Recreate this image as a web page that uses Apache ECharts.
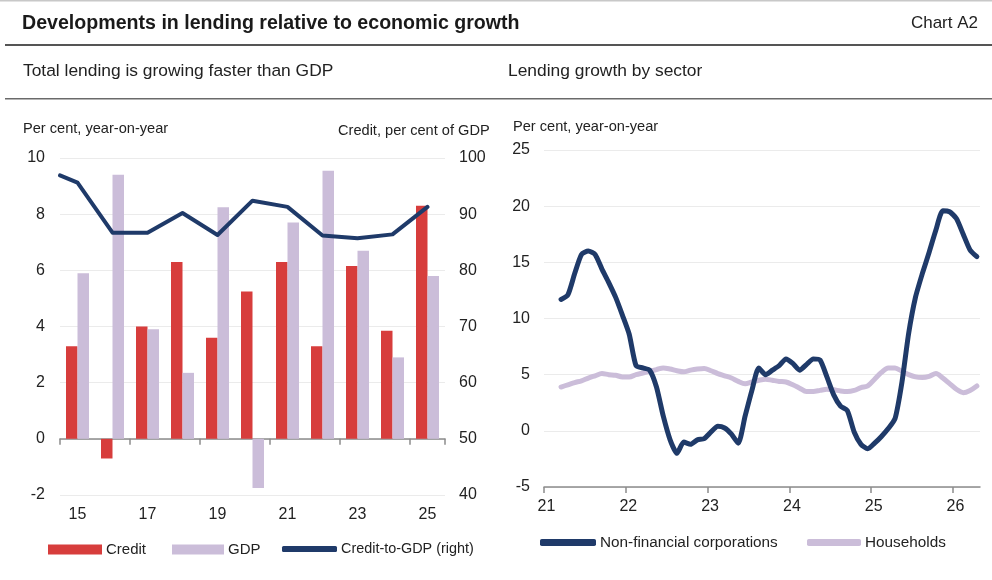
<!DOCTYPE html>
<html>
<head>
<meta charset="utf-8">
<script src="https://cdn.jsdelivr.net/npm/echarts@6/dist/echarts.min.js"></script>
<style>
  html, body { margin: 0; padding: 0; background: #fff; }
  #chart { width: 992px; height: 580px; }
</style>
</head>
<body>
<div id="chart"></div>
<script>
// Left panel: annual growth (per cent, year-on-year)
const years = ['2015', '2016', '2017', '2018', '2019', '2020', '2021', '2022', '2023', '2024', '2025'];
const creditGrowth = [3.3, -0.7, 4.0, 6.3, 3.6, 5.25, 6.3, 3.3, 6.15, 3.85, 8.3];
const gdpGrowth = [5.9, 9.4, 3.9, 2.35, 8.25, -1.75, 7.7, 9.55, 6.7, 2.9, 5.8];

// Credit-to-GDP ratio (per cent of GDP), plotted on the right-hand axis
const ratioYears = [2014.5, 2015, 2016, 2017, 2018, 2019, 2020, 2021, 2022, 2023, 2024, 2025];
const creditToGdp = [96.9, 95.6, 86.7, 86.7, 90.2, 86.3, 92.4, 91.3, 86.2, 85.7, 86.4, 91.3];

// Right panel: monthly lending growth by sector, March 2021 to April 2026
const firstMonth = { year: 2021, month: 3 };
const nonFinancialCorps = [
  11.7, 12.1, 14.0, 15.7, 16.0, 15.7, 14.4, 13.2, 11.9, 10.3,
  8.6, 5.8, 5.6, 5.4, 3.9, 1.3, -0.8, -2.0, -1.0, -1.2, -0.8, -0.7,
  -0.1, 0.4, 0.25, -0.3, -1.1, 1.3, 3.6, 5.6, 5.0, 5.4, 5.8, 6.4,
  6.0, 5.4, 5.9, 6.4, 6.3, 4.8, 3.2, 2.2, 1.8, -0.1, -1.2, -1.6,
  -1.1, -0.5, 0.2, 1.1, 4.3, 8.7, 11.9, 14.0, 15.9, 17.9, 19.6, 19.5,
  18.9, 17.5, 16.1, 15.5
];
const households = [
  3.9, 4.1, 4.3, 4.45, 4.7, 4.9, 5.1, 5.0, 4.95, 4.8,
  4.8, 5.0, 5.15, 5.3, 5.45, 5.6, 5.5, 5.35, 5.25, 5.4, 5.5, 5.55,
  5.35, 5.1, 4.9, 4.7, 4.4, 4.2, 4.35, 4.5, 4.6, 4.5, 4.4, 4.35,
  4.1, 3.8, 3.5, 3.5, 3.6, 3.7, 3.65, 3.55, 3.5, 3.6, 3.85, 4.0,
  4.6, 5.2, 5.6, 5.6, 5.3, 5.0, 4.8, 4.75, 4.85, 5.1, 4.7, 4.2,
  3.7, 3.4, 3.6, 4.0
];
const sectorYearTicks = [2021, 2022, 2023, 2024, 2025, 2026];

// Position of each monthly observation on a decimal-year scale (mid-month)
function monthPos(i) {
  const m = firstMonth.month - 1 + i;
  return firstMonth.year + Math.floor(m / 12) + ((m % 12) + 0.5) / 12;
}
const nfcData = nonFinancialCorps.map((v, i) => [monthPos(i), v]);
const hhData = households.map((v, i) => [monthPos(i), v]);
const ratioData = creditToGdp.map((v, i) => [ratioYears[i], v]);

const RED = '#d73d3c';
const LILAC = '#cbbdd9';
const NAVY = '#1f3a69';
const TEXT = '#222222';
const GRID = '#ebebeb';
const AXIS = '#8c8c8c';
const FONT = '"Liberation Sans", Arial, sans-serif';
const tickFont = { fontFamily: FONT, fontSize: 16, color: TEXT };

const chart = echarts.init(document.getElementById('chart'), null, { renderer: 'canvas' });

function legendItem(name, left, top, w, h, icon, size) {
  return {
    data: [{ name: name, icon: icon }],
    left: left, top: top, padding: 0,
    itemWidth: w, itemHeight: h, itemGap: 0,
    selectedMode: false,
    textStyle: { fontFamily: FONT, fontSize: size, color: TEXT, padding: [0, 0, 0, -1] }
  };
}

const option = {
  animation: false,
  backgroundColor: '#ffffff',
  grid: [
    { left: 60, right: 547, top: 158, bottom: 85 },
    { left: 544, right: 12, top: 150, bottom: 93 }
  ],
  xAxis: [
    { // zero line with year ticks
      type: 'category', gridIndex: 0, data: years, boundaryGap: true,
      axisLine: { onZero: true, lineStyle: { color: AXIS, width: 1.5 } },
      axisTick: { show: true, interval: 1, length: 6, lineStyle: { color: AXIS, width: 1.5 } },
      axisLabel: { show: false }
    },
    { // year labels along the bottom
      type: 'category', gridIndex: 0, data: years, boundaryGap: true, position: 'bottom',
      axisLine: { show: false, onZero: false }, axisTick: { show: false },
      axisLabel: Object.assign({ interval: 1, margin: 12, formatter: v => v.slice(2) }, tickFont)
    },
    { // decimal-year scale for the ratio line
      type: 'value', gridIndex: 0, min: 2014.5, max: 2025.5, show: false
    },
    {
      type: 'value', gridIndex: 1, min: 2021, max: 2026.33,
      axisLine: { onZero: false, lineStyle: { color: AXIS, width: 1.5 } },
      axisTick: { show: true, length: 6, customValues: sectorYearTicks, lineStyle: { color: AXIS, width: 1.5 } },
      axisLabel: Object.assign({ margin: 12, padding: [0, 0, 0, 5], customValues: sectorYearTicks, formatter: v => String(v).slice(2) }, tickFont),
      splitLine: { show: false }
    }
  ],
  yAxis: [
    {
      type: 'value', gridIndex: 0, min: -2, max: 10, interval: 2,
      axisLine: { show: false }, axisTick: { show: false },
      axisLabel: Object.assign({ margin: 15 }, tickFont),
      splitLine: { lineStyle: { color: GRID, width: 1 } }
    },
    {
      type: 'value', gridIndex: 0, min: 40, max: 100, interval: 10, position: 'right',
      axisLine: { show: false }, axisTick: { show: false },
      axisLabel: Object.assign({ margin: 14 }, tickFont),
      splitLine: { show: false }
    },
    {
      type: 'value', gridIndex: 1, min: -5, max: 25, interval: 5,
      axisLine: { show: false }, axisTick: { show: false },
      axisLabel: Object.assign({ margin: 14 }, tickFont),
      splitLine: { lineStyle: { color: GRID, width: 1 } }
    }
  ],
  legend: [
    legendItem('Credit', 48, 542, 54, 10, 'rect', 15),
    legendItem('GDP', 172, 542, 52, 10, 'rect', 15),
    legendItem('Credit-to-GDP (right)', 282, 542, 55, 6, 'roundRect', 14.4),
    legendItem('Non-financial corporations', 540, 535, 56, 7, 'roundRect', 15.3),
    legendItem('Households', 807, 535, 54, 7, 'roundRect', 15.3)
  ],
  series: [
    {
      name: 'Credit', type: 'bar', xAxisIndex: 0, yAxisIndex: 0,
      data: creditGrowth, barWidth: 11.5, barGap: '0%',
      itemStyle: { color: RED }
    },
    {
      name: 'GDP', type: 'bar', xAxisIndex: 0, yAxisIndex: 0,
      data: gdpGrowth, barWidth: 11.5, barGap: '0%',
      itemStyle: { color: LILAC }
    },
    {
      name: 'Credit-to-GDP (right)', type: 'line', xAxisIndex: 2, yAxisIndex: 1,
      data: ratioData, symbol: 'none',
      lineStyle: { color: NAVY, width: 4, join: 'round', cap: 'round' },
      itemStyle: { color: NAVY }, z: 5
    },
    {
      name: 'Households', type: 'line', xAxisIndex: 3, yAxisIndex: 2,
      data: hhData, symbol: 'none', smooth: 0.3,
      lineStyle: { color: LILAC, width: 5, join: 'round', cap: 'round' },
      itemStyle: { color: LILAC }, z: 3
    },
    {
      name: 'Non-financial corporations', type: 'line', xAxisIndex: 3, yAxisIndex: 2,
      data: nfcData, symbol: 'none', smooth: 0.2,
      lineStyle: { color: NAVY, width: 5, join: 'round', cap: 'round' },
      itemStyle: { color: NAVY }, z: 4
    }
  ],
  graphic: [
    { type: 'rect', shape: { x: 0, y: 0, width: 992, height: 1.5 }, style: { fill: '#c8c8c8' } },
    { type: 'text', left: 22, top: 14,
      style: { text: 'Developments in lending relative to economic growth', fontFamily: FONT, fontWeight: 'bold', fontSize: 19.6, fill: '#1a1a1a' } },
    { type: 'text', right: 14, top: 15,
      style: { text: 'Chart A2', fontFamily: FONT, fontSize: 17, fill: TEXT } },
    { type: 'rect', shape: { x: 5, y: 44, width: 987, height: 2 }, style: { fill: '#555555' } },
    { type: 'text', left: 23, top: 63,
      style: { text: 'Total lending is growing faster than GDP', fontFamily: FONT, fontSize: 17.4, fill: TEXT } },
    { type: 'text', left: 508, top: 63,
      style: { text: 'Lending growth by sector', fontFamily: FONT, fontSize: 17.4, fill: TEXT } },
    { type: 'rect', shape: { x: 5, y: 98, width: 987, height: 1.5 }, style: { fill: '#6a6a6a' } },
    { type: 'text', left: 23, top: 121,
      style: { text: 'Per cent, year-on-year', fontFamily: FONT, fontSize: 14.6, fill: TEXT } },
    { type: 'text', left: 338, top: 123,
      style: { text: 'Credit, per cent of GDP', fontFamily: FONT, fontSize: 14.6, fill: TEXT } },
    { type: 'text', left: 513, top: 119,
      style: { text: 'Per cent, year-on-year', fontFamily: FONT, fontSize: 14.6, fill: TEXT } }
  ]
};

chart.setOption(option);
</script>
</body>
</html>
